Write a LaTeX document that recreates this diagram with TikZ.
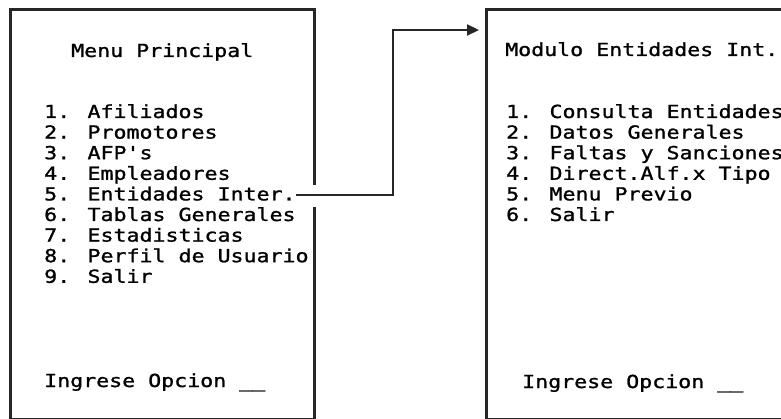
\documentclass[tikz,border=0pt]{standalone}
\usepackage{fontspec}
\newfontfamily\scr[FakeStretch=1.2,FakeBold=1.2]{DejaVu Sans Mono}
\usetikzlibrary{arrows.meta,calc}
\begin{document}
\begin{tikzpicture}[x=1pt,y=1pt,
  txt/.style={anchor=base west,inner sep=0pt,font=\scr\fontsize{18}{20}\selectfont},
  frame/.style={line width=3pt,black!85},
  conn/.style={line width=2.2pt,black!85}]
\useasboundingbox (0,0) rectangle (781,-419);
% left box
\coordinate (L1) at (314,-185);
\coordinate (L2) at (314,-207);
\draw[frame] (L1) -- (314,-10) -- (10,-10) -- (10,-419) -- (314,-419) -- (L2);
% right box
\draw[frame] (795,-10) -- (486,-10) -- (486,-419) -- (795,-419);
\coordinate (rboxw) at (486,-30);
% left texts
\node[txt] (lt) at (71,-57) {Menu Principal};
\node[txt] (l1) at (44,-118) {1. Afiliados};
\node[txt] (l2) at (44,-138.6) {2. Promotores};
\node[txt] (l3) at (44,-159.2) {3. AFP's};
\node[txt] (l4) at (44,-179.8) {4. Empleadores};
\node[txt] (l5) at (44,-200.4) {5. Entidades Inter.};
\node[txt] (l6) at (44,-221) {6. Tablas Generales};
\node[txt] (l7) at (44,-241.6) {7. Estadisticas};
\node[txt] (l8) at (44,-262.2) {8. Perfil de Usuario};
\node[txt] (l9) at (44,-282.8) {9. Salir};
\node[txt] (lin) at (44,-387) {Ingrese Opcion \_\_};
% right texts
\node[txt] (rt) at (505,-56) {Modulo Entidades Int.};
\node[txt] (r1) at (506,-118) {1. Consulta Entidades};
\node[txt] (r2) at (506,-138.6) {2. Datos Generales};
\node[txt] (r3) at (506,-159.2) {3. Faltas y Sanciones};
\node[txt] (r4) at (506,-179.8) {4. Direct.Alf.x Tipo};
\node[txt] (r5) at (506,-200.4) {5. Menu Previo};
\node[txt] (r6) at (506,-221) {6. Salir};
\node[txt] (rin) at (522,-388) {Ingrese Opcion \_\_};
% connector
\coordinate (cs) at (296,-195);
\coordinate (bend) at (393,-30);
\draw[conn,-{Triangle[length=12pt,width=11pt]},shorten >=7pt] (cs) -| (bend) -- (rboxw);
\end{tikzpicture}
\end{document}
